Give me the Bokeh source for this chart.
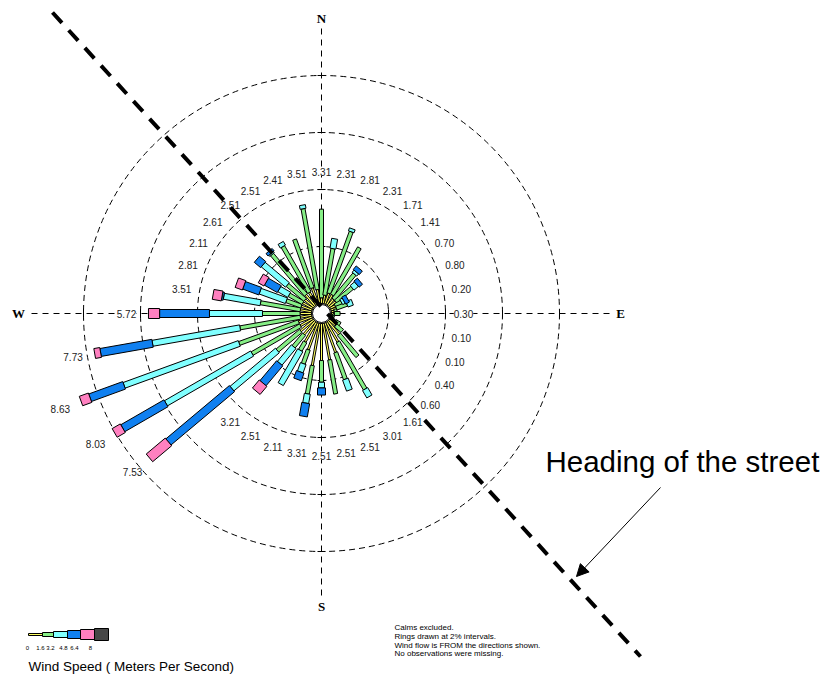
import numpy as np
from bokeh.plotting import figure
from bokeh.models import Range1d, Arrow, NormalHead, ColumnDataSource
from bokeh.core.properties import value
from bokeh.embed import file_html
from bokeh.resources import INLINE

# ---- data -------------------------------------------------------------
directions = list(range(0, 360, 10))  # wind FROM, degrees clockwise from north

# frequency (%) of each speed class, per direction
spd_0_16 = [0.2, 0.3, 0.4, 0.4, 0.3, 0.3, 0.2, 0.2, 0.1, 0.1, 0.05, 0.05,
            0.2, 0.3, 0.6, 0.8, 1.1, 1.3, 1.3, 1.5, 1.0, 0.8, 0.6, 0.6,
            0.5, 0.5, 0.4, 0.4, 0.4, 0.4, 0.4, 0.4, 0.5, 0.5, 0.6, 0.5]
spd_16_32 = [3.11, 1.66, 2.30, 1.91, 1.15, 0.75, 0.25, 0.40, 0.10, 0.20, 0.05, 0.05,
             0.20, 0.30, 1.01, 1.91, 1.00, 1.21, 0.76, 1.01, 0.52, 0.34, 0.57, 1.07,
             1.96, 2.22, 2.15, 1.32, 1.42, 0.56, 0.56, 0.81, 1.85, 1.86, 1.81, 2.88]
spd_32_48 = [0.0, 0.35, 0.11, 0.0, 0.10, 0.20, 0.10, 0.20, 0.0, 0.0, 0.0, 0.0,
             0.0, 0.0, 0.0, 0.30, 0.41, 0.0, 0.20, 0.33, 0.31, 1.37, 0.76, 2.08,
             3.49, 4.30, 3.12, 1.86, 1.31, 0.98, 0.40, 1.11, 0.05, 0.15, 0.0, 0.13]
spd_48_64 = [0.0, 0.0, 0.0, 0.0, 0.16, 0.16, 0.15, 0.0, 0.0, 0.0, 0.0, 0.0,
             0.0, 0.0, 0.0, 0.0, 0.0, 0.0, 0.25, 0.47, 0.28, 0.0, 0.91, 2.91,
             1.75, 1.27, 1.85, 1.75, 0.06, 0.60, 0.52, 0.29, 0.11, 0.0, 0.0, 0.0]
spd_64_8 = [0.0] * 22 + [0.37, 0.87, 0.33, 0.34, 0.21, 0.39, 0.32, 0.27, 0.23,
                         0.0, 0.0, 0.0, 0.0, 0.0]
spd_8_up = [0.0] * 36

speed_bins = ["0", "1.6", "3.2", "4.8", "6.4", "8"]
ring_pcts = [2, 4, 6, 8]

classes = [spd_0_16, spd_16_32, spd_32_48, spd_48_64, spd_64_8, spd_8_up]
class_colors = ["#FFFF60", "#86EE86", "#80FFFF", "#1080F0", "#FF80C0", "#474747"]
class_widths = [2, 4, 6, 8, 10, 12]

notes = ["Calms excluded.",
         "Rings drawn at  2% intervals.",
         "Wind flow is FROM the directions shown.",
         "No observations were missing."]

# ---- geometry (1 data unit == 1 screen pixel, y measured upward) -----
W, H = 828, 675
CX, CY = 321, H - 313
R0, K = 10.0, 28.5          # radius of calm hole, pixels per percent


def rad(pct):
    return R0 + K * np.asarray(pct, dtype=float)


def polar(r, deg):
    t = np.radians(deg)
    return CX + r * np.sin(t), CY + r * np.cos(t)


p = figure(width=W, height=H, x_range=Range1d(0, W), y_range=Range1d(0, H),
           x_axis_type=None, y_axis_type=None, min_border=0,
           toolbar_location=None, output_backend="svg",
           outline_line_color=None, background_fill_color="white")
p.grid.visible = False

# rings
p.circle([CX] * len(ring_pcts), [CY] * len(ring_pcts), radius=list(rad(ring_pcts)),
         fill_color=None, line_color="black", line_width=1, line_dash="6 4")

# compass cross-hair
p.line([CX, CX], [H - 28, H - 600], line_color="black", line_width=1, line_dash="6 5")
p.line([31, 613], [CY, CY], line_color="black", line_width=1, line_dash="6 5")
tx0, tx1, ty0, ty1 = [], [], [], []
for rr in rad(ring_pcts):
    for s in (1, -1):
        tx0 += [CX + s * rr]; tx1 += [CX + s * rr]; ty0 += [CY - 4]; ty1 += [CY + 4]
        tx0 += [CX - 4]; tx1 += [CX + 4]; ty0 += [CY + s * rr]; ty1 += [CY + s * rr]
p.segment(tx0, ty0, tx1, ty1, line_color="black", line_width=1)

# stacked speed bars
cum = np.zeros(len(directions))
for vals, col, wdt in zip(classes, class_colors, class_widths):
    vals = np.asarray(vals, dtype=float)
    lo, hi = cum.copy(), cum + vals
    cum = hi
    keep = vals > 0
    if not keep.any():
        continue
    d = np.asarray(directions, dtype=float)[keep]
    rmid = (rad(lo[keep]) + rad(hi[keep])) / 2
    xs, ys = polar(rmid, d)
    src = ColumnDataSource(dict(x=xs, y=ys, w=rad(hi[keep]) - rad(lo[keep]),
                                a=np.radians(90 - d)))
    p.rect("x", "y", width="w", height=wdt, angle="a", source=src,
           fill_color=col, line_color="black", line_width=1)

# calm hole
p.circle([CX], [CY], radius=R0 - 1, fill_color="white", line_color="black", line_width=1)

# percentage labels (white box so the cross-hair breaks around them)
totals = cum
lab_r = np.maximum(rad(totals) + 22, 142)
lx, ly = polar(lab_r, np.asarray(directions, dtype=float))
p.text(lx, ly, text=["%.2f" % t for t in totals], text_font=value("Liberation Sans"),
       text_font_size="10px", text_align="center", text_baseline="middle",
       text_color="#222222", background_fill_color="white")

# compass letters
p.text([CX, CX, 18, 620], [H - 18, H - 606, CY, CY], text=["N", "S", "W", "E"],
       text_font=value("Liberation Serif"), text_font_style="bold",
       text_font_size="13px", text_align="center", text_baseline="middle")

# street heading line
p.line([52, 640], [H - 12, H - 656], line_color="black", line_width=4, line_dash="14 10")
p.text([545], [H - 461], text=["Heading of the street"], text_font=value("Liberation Sans"),
       text_font_size="29.5px", text_align="left", text_baseline="middle")
p.add_layout(Arrow(end=NormalHead(size=12, fill_color="black", line_color="black"),
                   x_start=660, y_start=H - 487, x_end=576, y_end=H - 576,
                   line_color="black", line_width=1))

# speed legend
lx0 = 28
seg_len = [14, 11, 14, 13, 14, 14]
x = lx0
for col, wdt, ln in zip(class_colors, class_widths, seg_len):
    p.rect([x + ln / 2], [H - 634], width=ln, height=wdt, fill_color=col,
           line_color="black", line_width=1)
    x += ln
p.text([27, 40, 50, 63, 74, 90], [H - 647] * 6, text=speed_bins,
       text_font=value("Liberation Sans"), text_font_size="6px",
       text_align="center", text_baseline="middle")
p.text([28], [H - 666], text=["Wind Speed  ( Meters Per Second)"],
       text_font=value("Liberation Sans"), text_font_size="13.5px",
       text_align="left", text_baseline="middle")

# notes
p.text([394] * 4, [H - 627, H - 636, H - 644.5, H - 653], text=notes,
       text_font=value("Liberation Sans"), text_font_size="8px",
       text_align="left", text_baseline="middle")

open("out.html", "w").write(file_html(p, INLINE))
